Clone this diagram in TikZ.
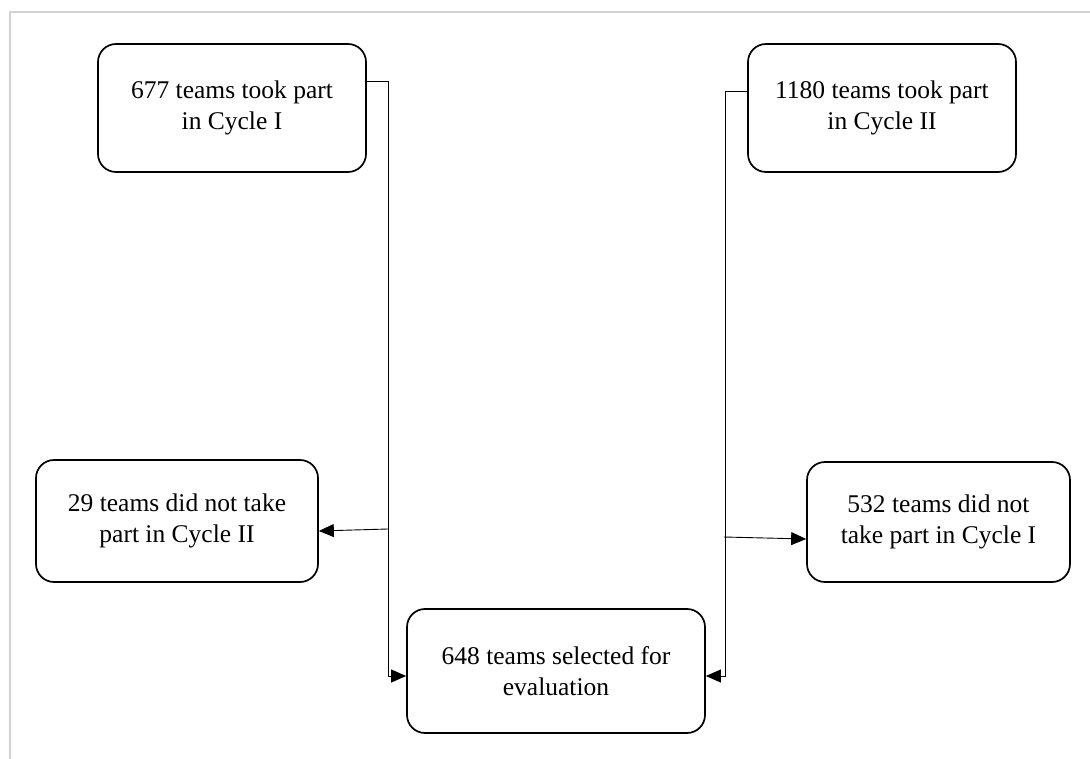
\documentclass[tikz,border=0pt]{standalone}
\usepackage{fontspec}
\setmainfont{Liberation Serif}
\usetikzlibrary{positioning,arrows.meta}

\begin{document}
\begin{tikzpicture}[
    x=1pt, y=-1pt,
    box/.style={draw, rounded corners=18pt, line width=1.7pt, align=center, inner sep=0pt, font=\fontsize{25.5}{31.5}\selectfont},
    arr/.style={-{Triangle[length=15pt, width=13pt]}, line width=0.9pt},
]
\useasboundingbox (0,0) rectangle (1090,759);
% page frame
\draw[gray!35, line width=1.5pt] (10,759) -- (10,12) -- (1090,12);

% Cycles
\node[box, minimum width=268pt, minimum height=128pt] (cyc1) at (232,108) {677 teams took part\\in Cycle I};
\node[box, minimum width=268pt, minimum height=128pt] (cyc2) at (882,108) {1180 teams took part\\in Cycle II};

% Teams missing one cycle
\node[box, minimum width=282pt, minimum height=122pt] (miss2) at (177,521) {29 teams did not take\\part in Cycle II};
\node[box, minimum width=263pt, minimum height=120pt] (miss1) at (938.5,522) {532 teams did not\\take part in Cycle I};

% Result
\node[box, minimum width=298pt, minimum height=124pt] (sel) at (556,671) {648 teams selected for\\evaluation};

\coordinate (brL) at (388,529);
\coordinate (brR) at (724,537);

\draw[arr] ([yshift=27pt]cyc1.east) -- ++(22,0) |- ([yshift=-5pt]sel.west);
\draw[arr] ([yshift=17pt]cyc2.west) -- ++(-22,0) |- ([yshift=-5pt]sel.east);
\draw[arr] (brL) -- ([yshift=-10pt]miss2.east);
\draw[arr] (brR) -- ([yshift=-17pt]miss1.west);
\end{tikzpicture}
\end{document}
